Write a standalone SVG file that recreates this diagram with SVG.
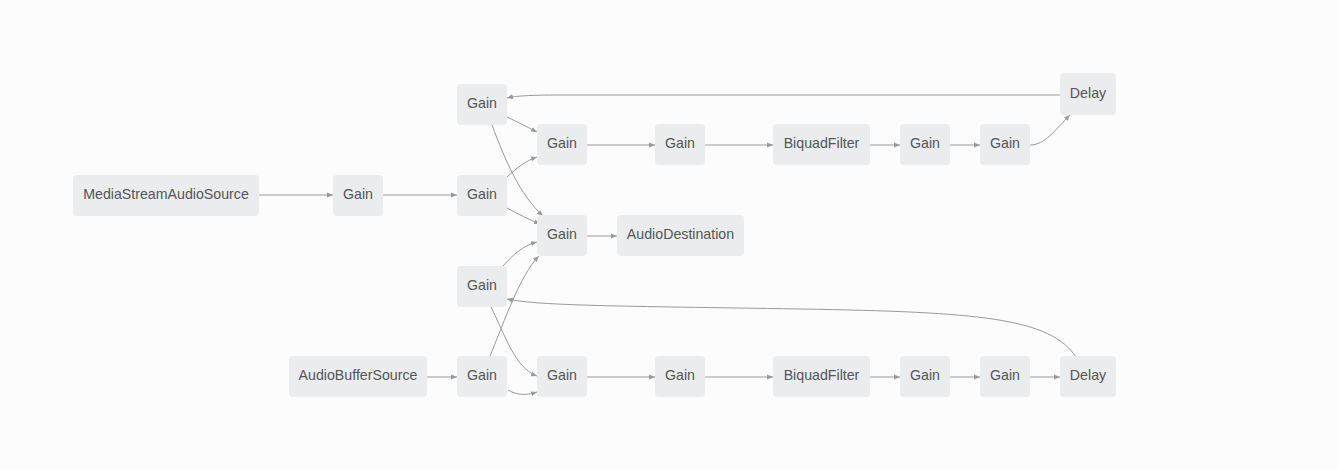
<svg xmlns="http://www.w3.org/2000/svg" width="1338" height="470" viewBox="0 0 1338 470">
<style>
.n rect{fill:#ebecee;stroke:none}
.n text{font-family:"Liberation Sans",Arial,sans-serif;font-size:14.2px;fill:#555;text-anchor:middle;dominant-baseline:central}
.e path{fill:none;stroke:#9a9a9a;stroke-width:1;marker-end:url(#a)}
</style>
<defs>
<marker id="a" markerWidth="6" markerHeight="6" refX="6" refY="3" orient="auto" markerUnits="userSpaceOnUse"><path d="M0,0.5 L6,3 L0,5.5 z" fill="#9a9a9a"/></marker>
</defs>
<rect width="1338" height="470" fill="#fcfcfc"/>
<g id="edges" class="e">
<path d="M259,195 L333,195"/>
<path d="M383,195 L457,195"/>
<path d="M507,177 C517,168 525,161 537,157"/>
<path d="M507,208 C518,214 528,219 540,224"/>
<path d="M507,117 C518,122 527,127 537,132"/>
<path d="M492,125 C505,160 520,195 543,216"/>
<path d="M503,266 C513,255 522,246 537,242"/>
<path d="M491,307 C505,335 515,368 537,376"/>
<path d="M427,377 L457,377"/>
<path d="M490,356 C505,320 520,275 539,256"/>
<path d="M508,390 C518,396 528,395 537,392"/>
<path d="M587,236 L617,236"/>
<path d="M587,145 L655,145"/>
<path d="M705,145 L773,145"/>
<path d="M870,145 L900,145"/>
<path d="M950,145 L980,145"/>
<path d="M1030,145 C1045,145 1055,130 1070,115"/>
<path d="M1060,95 L560,95 C530,95 515,96 507,98"/>
<path d="M587,377 L655,377"/>
<path d="M705,377 L773,377"/>
<path d="M870,377 L900,377"/>
<path d="M950,377 L980,377"/>
<path d="M1030,377 L1060,377"/>
<path d="M1076,357 C1050,318 980,312 800,309 C620,306 540,306 507,299"/>
</g>
<g id="n1" class="n"><rect x="73" y="175" width="186" height="41" rx="4"/><text x="166" y="194">MediaStreamAudioSource</text></g>
<g id="n2" class="n"><rect x="333" y="175" width="50" height="41" rx="4"/><text x="358" y="194">Gain</text></g>
<g id="n3" class="n"><rect x="457" y="175" width="50" height="41" rx="4"/><text x="482" y="194">Gain</text></g>
<g id="n4" class="n"><rect x="457" y="84" width="50" height="41" rx="4"/><text x="482" y="103">Gain</text></g>
<g id="n5" class="n"><rect x="457" y="266" width="50" height="41" rx="4"/><text x="482" y="285">Gain</text></g>
<g id="n6" class="n"><rect x="289" y="356" width="138" height="41" rx="4"/><text x="358" y="375">AudioBufferSource</text></g>
<g id="n7" class="n"><rect x="457" y="356" width="50" height="41" rx="4"/><text x="482" y="375">Gain</text></g>
<g id="n8" class="n"><rect x="537" y="124" width="50" height="41" rx="4"/><text x="562" y="143">Gain</text></g>
<g id="n9" class="n"><rect x="537" y="215" width="50" height="41" rx="4"/><text x="562" y="234">Gain</text></g>
<g id="n10" class="n"><rect x="537" y="356" width="50" height="41" rx="4"/><text x="562" y="375">Gain</text></g>
<g id="n11" class="n"><rect x="617" y="215" width="127" height="41" rx="4"/><text x="680.5" y="234">AudioDestination</text></g>
<g id="n12" class="n"><rect x="655" y="124" width="50" height="41" rx="4"/><text x="680" y="143">Gain</text></g>
<g id="n13" class="n"><rect x="773" y="124" width="97" height="41" rx="4"/><text x="821.5" y="143">BiquadFilter</text></g>
<g id="n14" class="n"><rect x="900" y="124" width="50" height="41" rx="4"/><text x="925" y="143">Gain</text></g>
<g id="n15" class="n"><rect x="980" y="124" width="50" height="41" rx="4"/><text x="1005" y="143">Gain</text></g>
<g id="n16" class="n"><rect x="1060" y="73" width="56" height="42" rx="4"/><text x="1088" y="92.5">Delay</text></g>
<g id="n17" class="n"><rect x="655" y="356" width="50" height="41" rx="4"/><text x="680" y="375">Gain</text></g>
<g id="n18" class="n"><rect x="773" y="356" width="97" height="41" rx="4"/><text x="821.5" y="375">BiquadFilter</text></g>
<g id="n19" class="n"><rect x="900" y="356" width="50" height="41" rx="4"/><text x="925" y="375">Gain</text></g>
<g id="n20" class="n"><rect x="980" y="356" width="50" height="41" rx="4"/><text x="1005" y="375">Gain</text></g>
<g id="n21" class="n"><rect x="1060" y="356" width="56" height="41" rx="4"/><text x="1088" y="375">Delay</text></g>
</svg>
